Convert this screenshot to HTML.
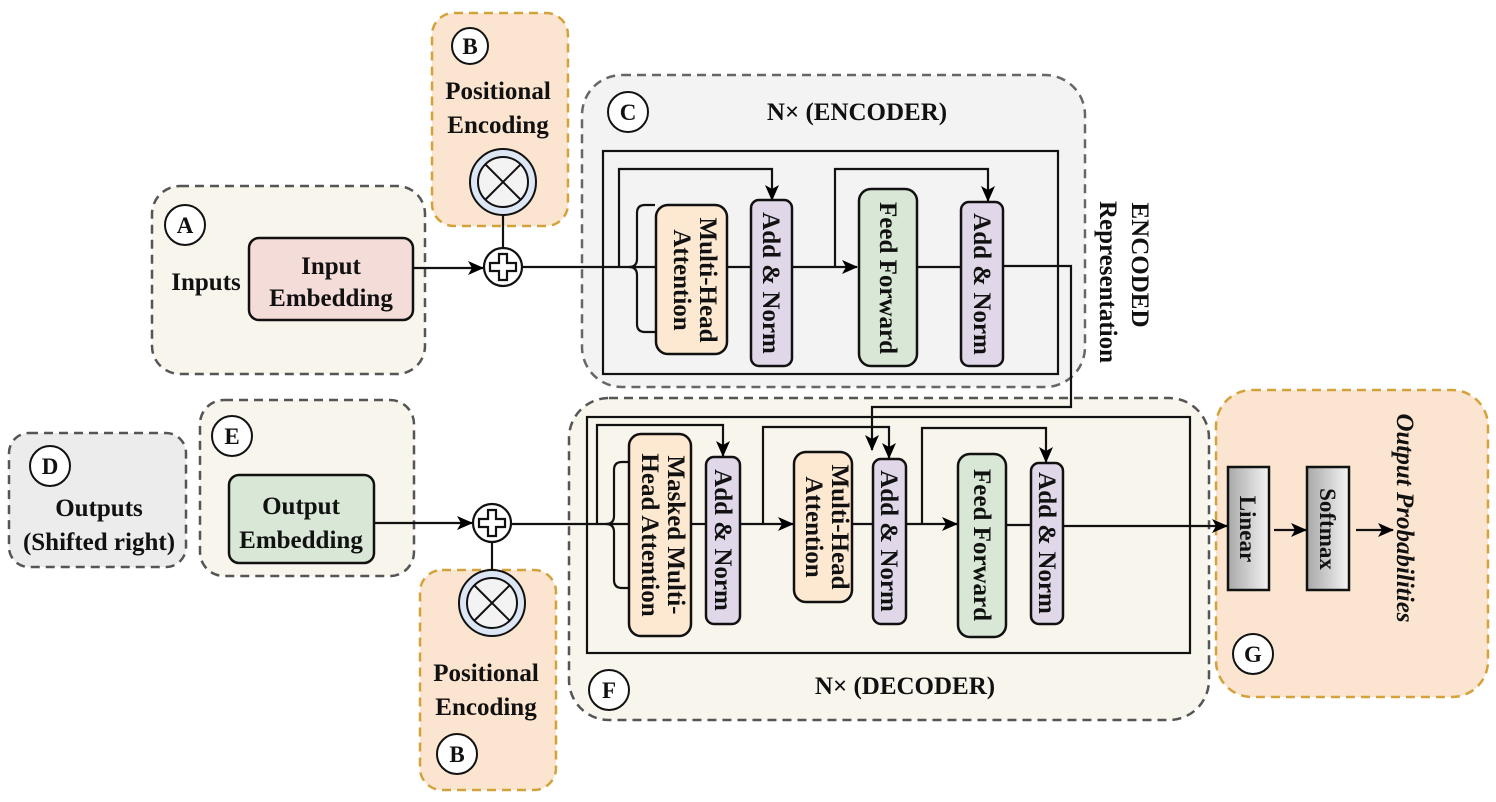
<!DOCTYPE html>
<html><head><meta charset="utf-8"><style>body{margin:0;background:#fff}svg{display:block}text{font-family:"Liberation Serif",serif;font-weight:bold;fill:#111}</style></head><body>
<svg width="1496" height="802" viewBox="0 0 1496 802" xmlns="http://www.w3.org/2000/svg">
<defs>
<marker id="ar2" markerWidth="16" markerHeight="14" refX="15" refY="7" orient="auto" markerUnits="userSpaceOnUse"><path d="M0,0 L16,7 L0,14 L4,7 z" fill="#000"/></marker>
<linearGradient id="gr" x1="0" x2="1"><stop offset="0" stop-color="#a8a8a8"/><stop offset="1" stop-color="#f4f4f4"/></linearGradient>
</defs>
<rect x="432" y="13" width="136" height="213" rx="22" fill="#fbe5d0" stroke="#d4a23a" stroke-width="2.5" stroke-dasharray="9,6"/>
<rect x="152" y="186" width="273" height="188" rx="28" fill="#f8f5ec" stroke="#555" stroke-width="2.5" stroke-dasharray="9,6"/>
<rect x="582" y="75" width="503" height="312" rx="40" fill="#f3f3f3" stroke="#666" stroke-width="2.5" stroke-dasharray="9,6"/>
<rect x="569" y="398" width="640" height="322" rx="40" fill="#f8f5ec" stroke="#555" stroke-width="2.5" stroke-dasharray="9,6"/>
<rect x="9" y="433" width="177" height="134" rx="20" fill="#ececec" stroke="#555" stroke-width="2.5" stroke-dasharray="9,6"/>
<rect x="200" y="400" width="214" height="176" rx="24" fill="#f8f5ec" stroke="#555" stroke-width="2.5" stroke-dasharray="9,6"/>
<rect x="420" y="570" width="136" height="220" rx="22" fill="#fbe5d0" stroke="#d4a23a" stroke-width="2.5" stroke-dasharray="9,6"/>
<rect x="1216" y="390" width="272" height="307" rx="36" fill="#fbe5d0" stroke="#d4a23a" stroke-width="2.5" stroke-dasharray="9,6"/>

<g fill="#fff" stroke="#111" stroke-width="2">
<circle cx="470" cy="46" r="18"/><circle cx="185" cy="225" r="20"/><circle cx="628" cy="112" r="20"/>
<circle cx="50" cy="466" r="20"/><circle cx="232" cy="436" r="20"/><circle cx="609" cy="690" r="20"/>
<circle cx="457" cy="754" r="20"/><circle cx="1253" cy="654" r="20"/>
</g>
<g font-size="23" text-anchor="middle">
<text x="470" y="54">B</text><text x="185" y="233">A</text><text x="628" y="120">C</text>
<text x="50" y="474">D</text><text x="232" y="444">E</text><text x="609" y="698">F</text>
<text x="457" y="762">B</text><text x="1253" y="662">G</text>
</g>

<g font-size="25" text-anchor="middle">
<text x="498" y="99">Positional</text><text x="498" y="133">Encoding</text>
<text x="486" y="681">Positional</text><text x="486" y="715">Encoding</text>
<text x="206" y="290">Inputs</text>
<text x="99" y="516">Outputs</text><text x="99" y="550">(Shifted right)</text>
<text x="857" y="120">N× (ENCODER)</text>
<text x="905" y="694">N× (DECODER)</text>
</g>

<g stroke="#111" stroke-width="2">
<circle cx="503" cy="182" r="33" fill="#dce6f4"/><circle cx="503" cy="182" r="25" fill="#f3f3f3"/>
<line x1="485" y1="164" x2="521" y2="200"/><line x1="521" y1="164" x2="485" y2="200"/>
<circle cx="492" cy="603" r="33" fill="#dce6f4"/><circle cx="492" cy="603" r="25" fill="#f3f3f3"/>
<line x1="474" y1="585" x2="510" y2="621"/><line x1="510" y1="585" x2="474" y2="621"/>
</g>

<rect x="249" y="238" width="164" height="82" rx="10" fill="#f4dcd8" stroke="#111" stroke-width="2.5"/>
<rect x="229" y="475" width="145" height="88" rx="10" fill="#d9e8d6" stroke="#111" stroke-width="2.5"/>
<g font-size="25" text-anchor="middle">
<text x="331" y="274">Input</text><text x="331" y="306">Embedding</text>
<text x="301" y="514">Output</text><text x="301" y="548">Embedding</text>
</g>

<g stroke="#111" stroke-width="2.2" fill="none">
<line x1="503" y1="215" x2="503" y2="248"/>
<line x1="413" y1="268" x2="483" y2="268" marker-end="url(#ar2)"/>
<line x1="522" y1="267" x2="656" y2="267"/>
<line x1="492" y1="570" x2="492" y2="542"/>
<line x1="374" y1="523" x2="472" y2="523" marker-end="url(#ar2)"/>
<line x1="511" y1="524" x2="629" y2="524"/>
<rect x="603" y="151" width="455" height="223"/>
<polyline points="619,267 619,169 772,169 772,200" marker-end="url(#ar2)"/>
<path d="M655,205 h-10 q-8,0 -8,8 v46 q0,8 -8,8 q8,0 8,8 v49 q0,8 8,8 h10"/>
<line x1="727" y1="267" x2="751" y2="267"/>
<line x1="792" y1="267" x2="857" y2="267" marker-end="url(#ar2)"/>
<polyline points="835,267 835,169 988,169 988,201" marker-end="url(#ar2)"/>
<line x1="917" y1="267" x2="961" y2="267"/>
<polyline points="1003,266 1071,266 1071,407 872,407 872,450" marker-end="url(#ar2)"/>
<rect x="587" y="417" width="603" height="236"/>
<polyline points="597,524 597,425 723,425 723,456" marker-end="url(#ar2)"/>
<path d="M628,462 h-6 q-8,0 -8,8 v46 q0,8 -8,8 q8,0 8,8 v48 q0,8 8,8 h6"/>
<line x1="690" y1="524" x2="706" y2="524"/>
<line x1="740" y1="524" x2="793" y2="524" marker-end="url(#ar2)"/>
<polyline points="763,524 763,427 889,427 889,458" marker-end="url(#ar2)"/>
<line x1="852" y1="524" x2="873" y2="524"/>
<line x1="906" y1="524" x2="957" y2="524" marker-end="url(#ar2)"/>
<polyline points="922,524 922,428 1046,428 1046,462" marker-end="url(#ar2)"/>
<line x1="1006" y1="525" x2="1031" y2="525"/>
<line x1="1063" y1="526" x2="1227" y2="526" marker-end="url(#ar2)"/>
<line x1="1274" y1="530" x2="1306" y2="530" marker-end="url(#ar2)"/>
<line x1="1356" y1="530" x2="1393" y2="530" marker-end="url(#ar2)"/>
</g>

<g stroke="#111" stroke-width="2.2">
<circle cx="503" cy="267" r="19" fill="#fff"/>
<path d="M499,254 h8 v9 h9 v8 h-9 v9 h-8 v-9 h-9 v-8 h9 z" fill="#fff"/>
<circle cx="492" cy="523" r="19" fill="#fff"/>
<path d="M488,510 h8 v9 h9 v8 h-9 v9 h-8 v-9 h-9 v-8 h9 z" fill="#fff"/>
</g>

<g stroke="#111" stroke-width="2.5">
<rect x="656" y="205" width="71" height="149" rx="12" fill="#fde8d2"/>
<rect x="751" y="200" width="41" height="166" rx="8" fill="#e0d8e8"/>
<rect x="859" y="189" width="58" height="177" rx="12" fill="#d9e8d6"/>
<rect x="961" y="202" width="42" height="164" rx="8" fill="#e0d8e8"/>
<rect x="629" y="434" width="62" height="202" rx="12" fill="#fde8d2"/>
<rect x="706" y="457" width="34" height="167" rx="8" fill="#e0d8e8"/>
<rect x="794" y="452" width="58" height="150" rx="12" fill="#fde8d2"/>
<rect x="873" y="459" width="33" height="165" rx="8" fill="#e0d8e8"/>
<rect x="958" y="454" width="48" height="183" rx="12" fill="#d9e8d6"/>
<rect x="1031" y="463" width="32" height="161" rx="8" fill="#e0d8e8"/>
<rect x="1228" y="467" width="41" height="123" fill="url(#gr)"/>
<rect x="1307" y="467" width="42" height="123" fill="url(#gr)"/>
</g>

<g font-size="25" text-anchor="middle">
<text transform="translate(700,280) rotate(90)">Multi-Head</text>
<text transform="translate(674,280) rotate(90)">Attention</text>
<text transform="translate(763,283) rotate(90)">Add &amp; Norm</text>
<text transform="translate(880,278) rotate(90)">Feed Forward</text>
<text transform="translate(974,284) rotate(90)">Add &amp; Norm</text>
<text transform="translate(1132,265) rotate(90)">ENCODED</text>
<text transform="translate(1100,282) rotate(90)">Representation</text>
<text transform="translate(668,535) rotate(90)">Masked Multi-</text>
<text transform="translate(642,535) rotate(90)">Head Attention</text>
<text transform="translate(715,540) rotate(90)">Add &amp; Norm</text>
<text transform="translate(832,527) rotate(90)">Multi-Head</text>
<text transform="translate(806,527) rotate(90)">Attention</text>
<text transform="translate(881,541) rotate(90)">Add &amp; Norm</text>
<text transform="translate(974,545) rotate(90)">Feed Forward</text>
<text transform="translate(1039,543) rotate(90)">Add &amp; Norm</text>
<text transform="translate(1240,529) rotate(90)" font-size="23">Linear</text>
<text transform="translate(1320,529) rotate(90)" font-size="23">Softmax</text>
<text transform="translate(1397,518) rotate(90)" font-style="italic">Output Probabilities</text>
</g>
</svg>
</body></html>
